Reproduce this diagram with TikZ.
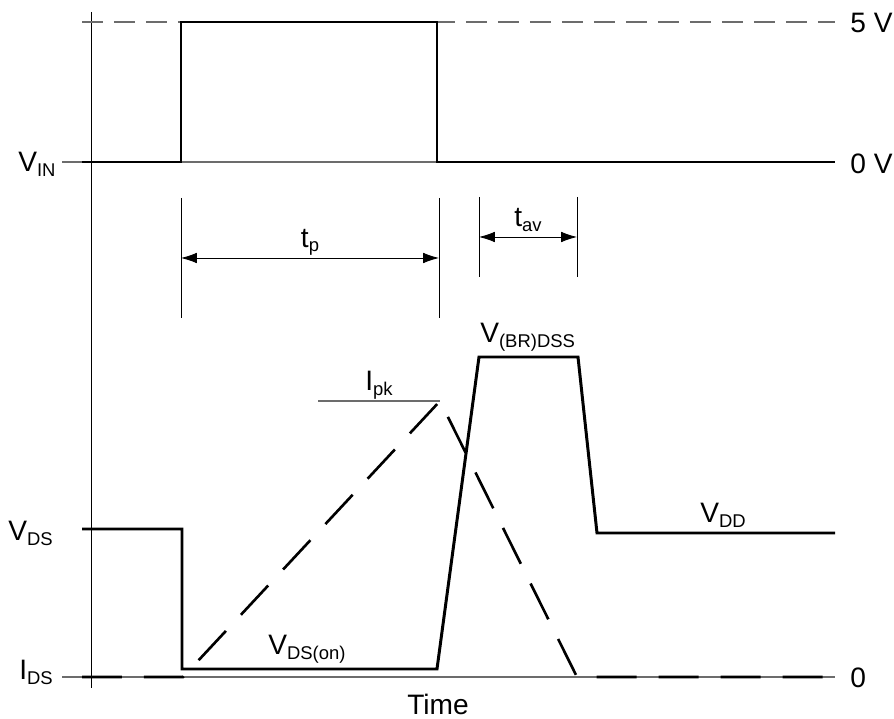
\documentclass[tikz,border=0pt]{standalone}
\usepackage{fontspec}
\setmainfont{Liberation Sans}
\usetikzlibrary{calc,positioning,arrows.meta}
\newcommand*\lsub[1]{\raisebox{-2.6pt}{\fontsize{10.5}{12}\selectfont #1}}

\begin{document}
\begin{tikzpicture}[x=0.02cm,y=-0.02cm,>={Latex[length=9pt,width=6pt]},
  thinny/.style={line width=0.5pt},
  level/.style={line width=0.6pt,gray!85!black},
  trace/.style={line width=1.7pt,line join=miter},
  dashi/.style={line width=1.5pt,dash pattern=on 0.8cm off 0.44cm},
  lbl/.style={font=\fontsize{16}{19}\selectfont,inner sep=0pt,anchor=base west}]
\useasboundingbox (0,0) rectangle (894,719);

% axis
\coordinate (atop) at (91,12);
\coordinate (abot) at (91,688);
\draw[thinny] (atop) -- (abot);

% reference levels
\coordinate (hi0) at (82,22);  \coordinate (hi1) at (835,22);
\coordinate (lo0) at (62,162); \coordinate (lo1) at (835,162);
\coordinate (z0) at (62,677);  \coordinate (z1) at (835,677);
\draw[level,dash pattern=on 0.42cm off 0.22cm] (hi0) -- (hi1);
\draw[level] (lo0) -- (lo1);
\draw[level] (z0) -- (z1);

% input pulse
\coordinate (in0) at (82,162);
\coordinate (inr) at (181,162);
\coordinate (inf) at (437,22);
\draw[trace] (in0) -- (inr) |- (inf) |- (lo1);

% drain voltage
\coordinate (ds0) at (82,529);
\coordinate (ds1) at (182,529);
\coordinate (ds2) at (182,669);
\coordinate (ds3) at (437,669);
\coordinate (ds4) at (479,357);
\coordinate (ds5) at (578,357);
\coordinate (ds6) at (597,533);
\coordinate (ds7) at (835,533);
\draw[trace] (ds0) -- (ds1) -- (ds2) -- (ds3) -- (ds4) -- (ds5) -- (ds6) -- (ds7);

% drain current
\coordinate (id0) at (82,677);
\coordinate (id1) at (183,677);
\coordinate (pk) at (440,401);
\coordinate (id2) at (577,677);
\draw[dashi] (id0) -- (id1) -- (pk) -- (id2) -- (z1);

\coordinate (pkl) at (318,401);
\draw[level] (pkl) -- (pk);

% t_p
\coordinate (tpa) at (181,198); \coordinate (tpb) at (181,318);
\coordinate (tpc) at (439,198); \coordinate (tpd) at (439,318);
\draw[thinny] (tpa) -- (tpb);
\draw[thinny] (tpc) -- (tpd);
\draw[thinny,<->] ($(tpa)!0.5!(tpb)$) -- node[lbl,anchor=south,above=1pt] (tp) {t\lsub{p}} ($(tpc)!0.5!(tpd)$);

% t_av
\coordinate (taa) at (479,197); \coordinate (tab) at (479,277);
\coordinate (tac) at (577,197); \coordinate (tad) at (577,277);
\draw[thinny] (taa) -- (tab);
\draw[thinny] (tac) -- (tad);
\draw[thinny,<->] ($(taa)!0.5!(tab)$) -- node[lbl,anchor=south,above=3pt] (tav) {t\lsub{av}} ($(tac)!0.5!(tad)$);

% labels
\node[lbl] (vin) at (18,172) {V\lsub{IN}};
\node[lbl] (fivev) at (850,33) {5 V};
\node[lbl] (zerov) at (850,174) {0 V};
\node[lbl] (vbr) at (480,343) {V\lsub{(BR)DSS}};
\node[lbl] (ipk) at (365,391) {I\lsub{pk}};
\node[lbl] (vds) at (8,541) {V\lsub{DS}};
\node[lbl] (vdd) at (700,523) {V\lsub{DD}};
\node[lbl] (vdson) at (268,655) {V\lsub{DS(on)}};
\node[lbl] (ids) at (19,680) {I\lsub{DS}};
\node[lbl] (zero) at (850,688) {0};
\node[lbl,anchor=base] (time) at (438,715) {Time};

\end{tikzpicture}
\end{document}
